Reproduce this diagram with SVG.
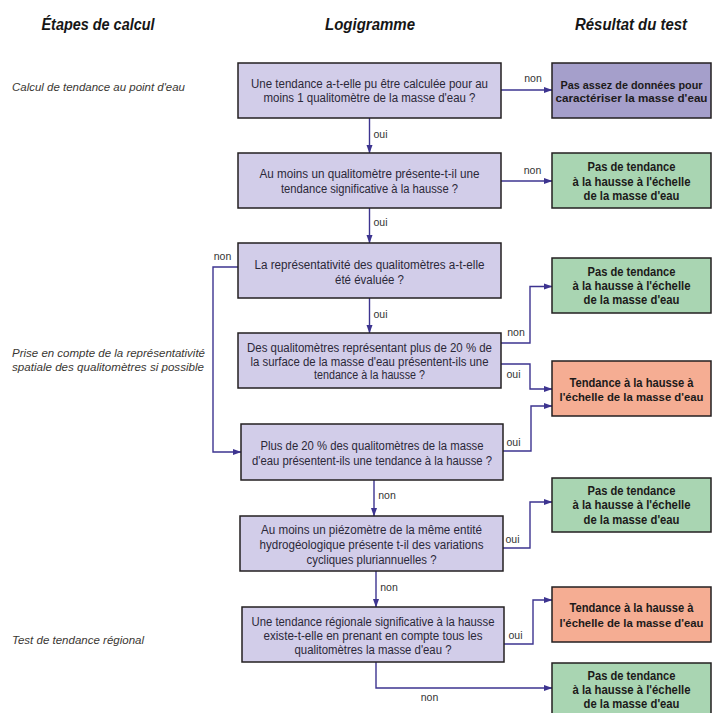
<svg xmlns="http://www.w3.org/2000/svg" width="712" height="713" viewBox="0 0 712 713">
<defs>
<marker id="ah" markerWidth="9" markerHeight="8" refX="8.5" refY="4" orient="auto" markerUnits="userSpaceOnUse">
<path d="M0,0.8 L9,4 L0,7.2 Z" fill="#3d3490"/>
</marker>
<style>
.q{fill:#d2cde9;stroke:#231f20;stroke-width:1.5}
.rp{fill:#a59fcb;stroke:#231f20;stroke-width:1.5}
.rg{fill:#a9d5b2;stroke:#231f20;stroke-width:1.5}
.rs{fill:#f5ad93;stroke:#231f20;stroke-width:1.5}
.qt{font-family:"Liberation Sans Narrow","Liberation Sans","DejaVu Sans Condensed",sans-serif;font-size:12px;fill:#2b2838;text-anchor:middle}
.rt{font-family:"Liberation Sans Narrow","Liberation Sans","DejaVu Sans Condensed",sans-serif;font-size:12.5px;font-weight:bold;fill:#1c1a1a;text-anchor:middle}
.sm{font-size:11.5px}
.hd{font-family:"Liberation Sans Narrow","Liberation Sans",sans-serif;font-size:16px;font-weight:bold;font-style:italic;fill:#161616;text-anchor:middle}
.lb{font-family:"Liberation Sans Narrow","Liberation Sans",sans-serif;font-size:11.5px;font-style:italic;fill:#3a3733}
.yn{font-family:"Liberation Sans Narrow","Liberation Sans",sans-serif;font-size:10.5px;fill:#333;text-anchor:middle}
.c{fill:none;stroke:#3d3490;stroke-width:1.4;marker-end:url(#ah)}
</style>
</defs>
<rect width="712" height="713" fill="#ffffff"/>

<g id="headers">
<text class="hd" x="98" y="30" textLength="113" lengthAdjust="spacingAndGlyphs">Étapes de calcul</text>
<text class="hd" x="370" y="30" textLength="90" lengthAdjust="spacingAndGlyphs">Logigramme</text>
<text class="hd" x="631" y="30" textLength="112" lengthAdjust="spacingAndGlyphs">Résultat du test</text>
</g>

<g id="steps">
<text class="lb" x="12" y="91" textLength="173" lengthAdjust="spacingAndGlyphs">Calcul de tendance au point d'eau</text>
<text class="lb" x="12" y="357" textLength="193" lengthAdjust="spacingAndGlyphs">Prise en compte de la représentativité</text>
<text class="lb" x="12" y="370.5" textLength="192" lengthAdjust="spacingAndGlyphs">spatiale des qualitomètres si possible</text>
<text class="lb" x="12" y="644" textLength="132" lengthAdjust="spacingAndGlyphs">Test de tendance régional</text>
</g>

<g id="connectors">
<line class="c" x1="501" y1="90" x2="552" y2="90"/>
<line class="c" x1="369.5" y1="118" x2="369.5" y2="153"/>
<line class="c" x1="501" y1="181" x2="552" y2="181"/>
<line class="c" x1="369.5" y1="208" x2="369.5" y2="243"/>
<polyline class="c" points="238,267 213,267 213,452 241,452"/>
<line class="c" x1="369.5" y1="298" x2="369.5" y2="333"/>
<polyline class="c" points="501,343 530,343 530,286.5 552,286.5"/>
<polyline class="c" points="501,364 530,364 530,389 552,389"/>
<polyline class="c" points="503,451 531,451 531,406 552,406"/>
<line class="c" x1="374" y1="480" x2="374" y2="516"/>
<polyline class="c" points="503,548 530,548 530,502 552,502"/>
<line class="c" x1="376" y1="571" x2="376" y2="607"/>
<polyline class="c" points="504,644 533,644 533,600 552,600"/>
<polyline class="c" points="376,662 376,688 552,688"/>
<text class="yn" x="533" y="81.5">non</text>
<text class="yn" x="380.5" y="137.5">oui</text>
<text class="yn" x="532.5" y="174">non</text>
<text class="yn" x="380.5" y="225.5">oui</text>
<text class="yn" x="222.5" y="259.5">non</text>
<text class="yn" x="380.5" y="317.5">oui</text>
<text class="yn" x="516" y="335.5">non</text>
<text class="yn" x="513.5" y="377.5">oui</text>
<text class="yn" x="513.5" y="445.5">oui</text>
<text class="yn" x="387" y="499">non</text>
<text class="yn" x="512.5" y="542.5">oui</text>
<text class="yn" x="389" y="591">non</text>
<text class="yn" x="515.5" y="638.5">oui</text>
<text class="yn" x="429.5" y="701">non</text>
</g>

<g id="q1">
<rect class="q" x="238" y="63" width="263" height="55"/>
<text class="qt" x="369.5" y="88" textLength="237" lengthAdjust="spacingAndGlyphs">Une tendance a-t-elle pu être calculée pour au</text>
<text class="qt" x="369.5" y="101.5" textLength="212" lengthAdjust="spacingAndGlyphs">moins 1 qualitomètre de la masse d'eau ?</text>
</g>
<g id="q2">
<rect class="q" x="238" y="153" width="263" height="55"/>
<text class="qt" x="369.5" y="178" textLength="220" lengthAdjust="spacingAndGlyphs">Au moins un qualitomètre présente-t-il une</text>
<text class="qt" x="369.5" y="193" textLength="177" lengthAdjust="spacingAndGlyphs">tendance significative à la hausse ?</text>
</g>
<g id="q3">
<rect class="q" x="238" y="243" width="263" height="55"/>
<text class="qt" x="369.5" y="269" textLength="230" lengthAdjust="spacingAndGlyphs">La représentativité des qualitomètres a-t-elle</text>
<text class="qt" x="369.5" y="283.5" textLength="69" lengthAdjust="spacingAndGlyphs">été évaluée ?</text>
</g>
<g id="q4">
<rect class="q" x="238" y="333" width="263" height="55"/>
<text class="qt" x="369.5" y="352" textLength="245" lengthAdjust="spacingAndGlyphs">Des qualitomètres représentant plus de 20 % de</text>
<text class="qt" x="369.5" y="365.5" textLength="238" lengthAdjust="spacingAndGlyphs">la surface de la masse d'eau présentent-ils une</text>
<text class="qt" x="369.5" y="379" textLength="111" lengthAdjust="spacingAndGlyphs">tendance à la hausse ?</text>
</g>
<g id="q5">
<rect class="q" x="241" y="424" width="262" height="56"/>
<text class="qt" x="372" y="449.5" textLength="223" lengthAdjust="spacingAndGlyphs">Plus de 20 % des qualitomètres de la masse</text>
<text class="qt" x="372" y="464.5" textLength="240" lengthAdjust="spacingAndGlyphs">d'eau présentent-ils une tendance à la hausse ?</text>
</g>
<g id="q6">
<rect class="q" x="240" y="516" width="263" height="55"/>
<text class="qt" x="371.5" y="534" textLength="221" lengthAdjust="spacingAndGlyphs">Au moins un piézomètre de la même entité</text>
<text class="qt" x="371.5" y="549" textLength="224" lengthAdjust="spacingAndGlyphs">hydrogéologique présente t-il des variations</text>
<text class="qt" x="371.5" y="563.5" textLength="130" lengthAdjust="spacingAndGlyphs">cycliques pluriannuelles ?</text>
</g>
<g id="q7">
<rect class="q" x="242" y="607" width="262" height="55"/>
<text class="qt" x="373" y="625.5" textLength="243" lengthAdjust="spacingAndGlyphs">Une tendance régionale significative à la hausse</text>
<text class="qt" x="373" y="640" textLength="219" lengthAdjust="spacingAndGlyphs">existe-t-elle en prenant en compte tous les</text>
<text class="qt" x="373" y="654" textLength="157" lengthAdjust="spacingAndGlyphs">qualitomètres la masse d'eau ?</text>
</g>

<g id="r1">
<rect class="rp" x="552" y="63" width="159" height="55"/>
<text class="rt sm" x="631.5" y="88.5" textLength="142" lengthAdjust="spacingAndGlyphs">Pas assez de données pour</text>
<text class="rt sm" x="631.5" y="101.5" textLength="152" lengthAdjust="spacingAndGlyphs">caractériser la masse d'eau</text>
</g>
<g id="r2">
<rect class="rg" x="552" y="153" width="159" height="55"/>
<text class="rt" x="631.5" y="171" textLength="88" lengthAdjust="spacingAndGlyphs">Pas de tendance</text>
<text class="rt" x="631.5" y="185.5" textLength="118" lengthAdjust="spacingAndGlyphs">à la hausse à l'échelle</text>
<text class="rt" x="631.5" y="200" textLength="96" lengthAdjust="spacingAndGlyphs">de la masse d'eau</text>
</g>
<g id="r3">
<rect class="rg" x="552" y="258" width="159" height="55"/>
<text class="rt" x="631.5" y="276" textLength="88" lengthAdjust="spacingAndGlyphs">Pas de tendance</text>
<text class="rt" x="631.5" y="289.5" textLength="118" lengthAdjust="spacingAndGlyphs">à la hausse à l'échelle</text>
<text class="rt" x="631.5" y="303.5" textLength="96" lengthAdjust="spacingAndGlyphs">de la masse d'eau</text>
</g>
<g id="r4">
<rect class="rs" x="552" y="361" width="159" height="55"/>
<text class="rt" x="631.5" y="387" textLength="124" lengthAdjust="spacingAndGlyphs">Tendance à la hausse à</text>
<text class="rt sm" x="631.5" y="401" textLength="144" lengthAdjust="spacingAndGlyphs">l'échelle de la masse d'eau</text>
</g>
<g id="r5">
<rect class="rg" x="552" y="478" width="159" height="54"/>
<text class="rt" x="631.5" y="494.5" textLength="88" lengthAdjust="spacingAndGlyphs">Pas de tendance</text>
<text class="rt" x="631.5" y="509" textLength="118" lengthAdjust="spacingAndGlyphs">à la hausse à l'échelle</text>
<text class="rt" x="631.5" y="524" textLength="96" lengthAdjust="spacingAndGlyphs">de la masse d'eau</text>
</g>
<g id="r6">
<rect class="rs" x="552" y="587" width="159" height="55"/>
<text class="rt" x="631.5" y="611.5" textLength="124" lengthAdjust="spacingAndGlyphs">Tendance à la hausse à</text>
<text class="rt sm" x="631.5" y="626.5" textLength="144" lengthAdjust="spacingAndGlyphs">l'échelle de la masse d'eau</text>
</g>
<g id="r7">
<rect class="rg" x="552" y="663" width="159" height="60"/>
<text class="rt" x="631.5" y="679.5" textLength="88" lengthAdjust="spacingAndGlyphs">Pas de tendance</text>
<text class="rt" x="631.5" y="693.5" textLength="118" lengthAdjust="spacingAndGlyphs">à la hausse à l'échelle</text>
<text class="rt" x="631.5" y="707.5" textLength="96" lengthAdjust="spacingAndGlyphs">de la masse d'eau</text>
</g>
</svg>
